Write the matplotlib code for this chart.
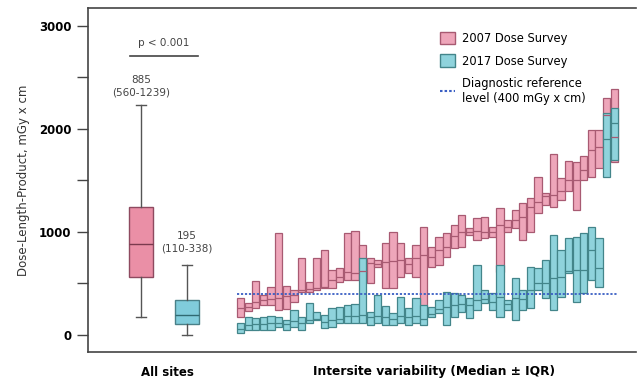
import matplotlib.pyplot as plt
from matplotlib.patches import Patch
from matplotlib.lines import Line2D
import numpy as np

# all sites summary (median, IQR, whiskers)
all_labels = ["2007", "2017"]
all_med = [885, 195]
all_q1 = [560, 110]
all_q3 = [1239, 338]
all_lo = [170, 0]
all_hi = [2230, 680]

# per-site 2007 (q1, median, q3)
q1_2007 = [175, 232, 261, 290, 290, 242, 250, 320, 420, 416, 435, 455, 455, 513, 532,
           532, 532, 503, 658, 455, 455, 561, 600, 561, 270, 658, 680, 755, 842, 850,
           968, 920, 940, 950, 610, 997, 1035, 920, 997, 1180, 1260, 1240, 1310, 1400,
           1210, 1500, 1530, 1616, 1710, 1675]
med_2007 = [261, 270, 320, 340, 350, 358, 380, 390, 440, 450, 460, 470, 532, 560, 610,
            600, 620, 697, 690, 707, 715, 730, 690, 745, 775, 760, 823, 850, 960, 997,
            1000, 1010, 1000, 1000, 1065, 1050, 1120, 1140, 1240, 1290, 1345, 1355, 1400,
            1500, 1500, 1600, 1790, 1820, 2130, 1917]
q3_2007 = [358, 310, 523, 387, 465, 987, 480, 435, 745, 513, 745, 823, 630, 650, 987,
           1006, 870, 745, 725, 890, 1000, 890, 745, 870, 1045, 850, 950, 987, 1065, 1160,
           1035, 1130, 1140, 1045, 1230, 1113, 1210, 1280, 1325, 1530, 1375, 1760, 1520,
           1690, 1675, 1740, 1985, 1985, 2300, 2390]

# per-site 2017 (q1, median, q3)
q1_2017 = [20, 48, 48, 48, 48, 77, 48, 77, 48, 116, 145, 68, 77, 116, 116,
           116, 116, 100, 116, 100, 100, 116, 100, 116, 97, 174, 213, 97, 174, 222,
           164, 242, 310, 242, 174, 242, 145, 242, 261, 435, 358, 242, 368, 600, 320,
           406, 532, 465, 1530, 1700]
med_2017 = [60, 100, 105, 110, 115, 120, 110, 140, 120, 150, 160, 130, 150, 160, 180,
            180, 193, 170, 180, 170, 160, 180, 170, 180, 160, 200, 250, 271, 290, 300,
            290, 340, 350, 320, 368, 300, 358, 350, 435, 500, 503, 552, 560, 620, 630,
            630, 823, 650, 1900, 2060]
q3_2017 = [116, 174, 164, 174, 180, 174, 145, 242, 174, 310, 222, 193, 261, 271, 290,
           300, 745, 222, 387, 280, 213, 370, 261, 358, 290, 270, 340, 416, 406, 387,
           358, 677, 435, 406, 677, 340, 552, 435, 658, 650, 726, 968, 823, 939, 950,
           987, 1045, 939, 2150, 2200]

drl = 400

pink = "#eea6ba"
pink_edge = "#a85a72"
blue = "#8fd3dc"
blue_edge = "#43858a"
box_pink = "#ea8fa6"
box_blue = "#80ccdb"

fig = plt.figure(figsize=(6.37, 3.82), dpi=100)
ax = fig.add_axes([0.138, 0.0785, 0.86, 0.9005])

# all sites boxes
all_x = [7, 13]
stats = []
for i in range(2):
    stats.append(dict(med=all_med[i], q1=all_q1[i], q3=all_q3[i],
                      whislo=all_lo[i], whishi=all_hi[i], label=all_labels[i]))
bp = ax.bxp(stats, positions=all_x, widths=3.1, patch_artist=True, showfliers=False,
            capwidths=1.3, manage_ticks=False,
            medianprops=dict(color="#7a3a4e", lw=1),
            whiskerprops=dict(color="#555555", lw=1),
            capprops=dict(color="#555555", lw=1))
for patch, fc, ec in zip(bp["boxes"], [box_pink, box_blue], ["#8e4a60", "#4a8088"]):
    patch.set_facecolor(fc)
    patch.set_edgecolor(ec)
bp["medians"][1].set_color("#2f6a72")

# per-site boxes
n = len(med_2007)
site_x = 20 + np.arange(n)
w = 0.95
ax.bar(site_x, np.array(q3_2007) - np.array(q1_2007), bottom=q1_2007, width=w,
       color=pink, edgecolor=pink_edge, lw=0.9)
ax.hlines(med_2007, site_x - w / 2, site_x + w / 2, color=pink_edge, lw=0.9)
ax.bar(site_x, np.array(q3_2017) - np.array(q1_2017), bottom=q1_2017, width=w,
       color=blue, edgecolor=blue_edge, lw=0.9)
ax.hlines(med_2017, site_x - w / 2, site_x + w / 2, color=blue_edge, lw=0.9)

ax.hlines(drl, site_x[0] - 0.5, site_x[-1] + 0.5, color="#3a5fc4", lw=1.3,
          linestyles=(0, (1.2, 1.0)))

# annotations
ax.text(all_x[0], 2300, "885\n(560-1239)", ha="center", va="bottom", fontsize=7.5,
        color="#444444", linespacing=1.3)
ax.text(all_x[1], 790, "195\n(110-338)", ha="center", va="bottom", fontsize=7.5,
        color="#444444", linespacing=1.3)
ax.plot([5.5, 14.4], [2710, 2710], color="#444444", lw=1.2)
ax.text(9.95, 2780, "p < 0.001", ha="center", va="bottom", fontsize=7.5, color="#444444")

ax.set_xlim(0, 71.8)
ax.set_ylim(-165, 3171)
ax.set_yticks([0, 1000, 2000, 3000])
ax.set_yticklabels(["0", "1000", "2000", "3000"], fontweight="bold", fontsize=8.5)
ax.set_yticks([500, 1500, 2500], minor=True)
ax.tick_params(axis="y", which="both", length=8, width=1, color="#444444", pad=4)
ax.set_xticks([])
ax.spines["right"].set_visible(False)
for s in ["left", "top", "bottom"]:
    ax.spines[s].set_color("#444444")
    ax.spines[s].set_linewidth(1.2)

ax.set_ylabel("Dose-Length-Product, mGy x cm", fontsize=8.5, color="#333333", labelpad=6)
fig.text(167 / 637, 1 - 372 / 382, "All sites", ha="center", va="center",
         fontsize=8.5, fontweight="bold")
fig.text(434 / 637, 1 - 372 / 382, "Intersite variability (Median \u00b1 IQR)",
         ha="center", va="center", fontsize=8.8, fontweight="bold")

handles = [Patch(facecolor=pink, edgecolor=pink_edge),
           Patch(facecolor=blue, edgecolor=blue_edge),
           Line2D([], [], color="#3a5fc4", lw=1.5, ls=(0, (1.2, 1.0)))]
labels = ["2007 Dose Survey", "2017 Dose Survey",
          "Diagnostic reference\nlevel (400 mGy x cm)"]
ax.legend(handles, labels, loc="upper left", bbox_to_anchor=(0.635, 0.945), frameon=False,
          fontsize=8.3, handlelength=1.3, handleheight=1.3, handletextpad=0.6,
          labelspacing=0.85, borderaxespad=0)

fig.savefig("out.png", dpi=100)
